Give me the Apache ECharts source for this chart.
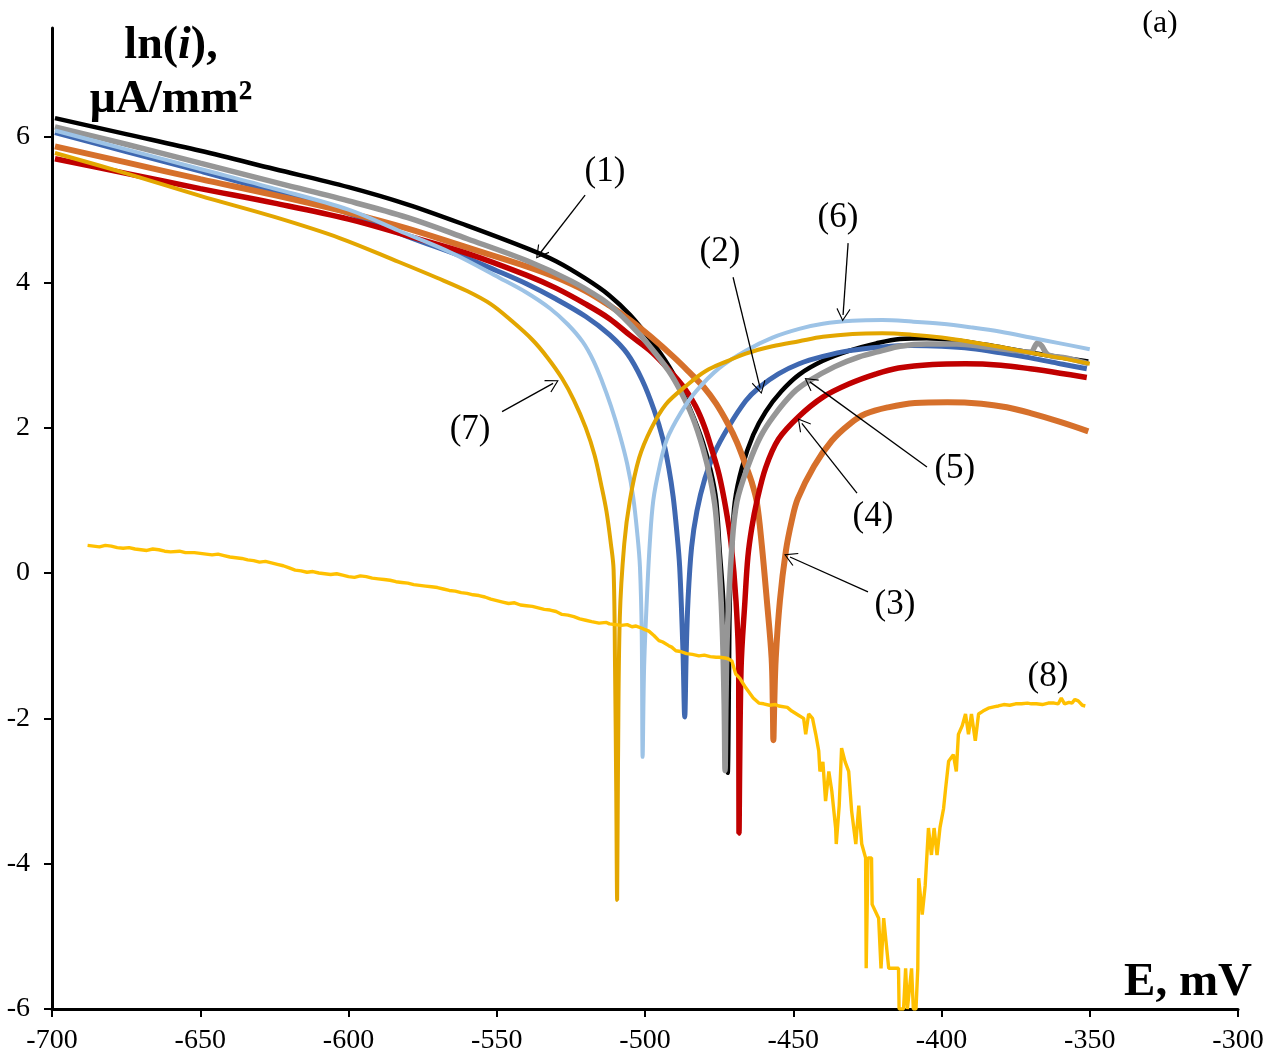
<!DOCTYPE html>
<html>
<head>
<meta charset="utf-8">
<script src="https://cdn.jsdelivr.net/npm/echarts@6/dist/echarts.min.js"></script>
<style>html,body{margin:0;padding:0;background:#fff}#c{width:1280px;height:1062px}</style>
</head>
<body>
<div id="c"></div>
<script>
// ---- data (E in mV, ln(i)) ----
const curve1 = [[-699,6.26],[-675,6.04],[-650,5.81],[-625,5.56],[-600,5.31],[-580,5.07],[-560,4.78],[-540,4.47],[-530,4.29],[-520,4.05],[-512,3.82],[-505,3.55],[-498,3.2],[-492,2.85],[-488,2.55],[-484,2.18],[-480.5,1.8],[-477.8,1.4],[-476,1.0],[-474.8,0.3],[-473.6,-0.38],[-472.7,-1.5],[-472.1,-2.75],[-471.7,-1.5],[-471.4,-0.38],[-470.6,0.4],[-469.7,0.98],[-467.3,1.45],[-463.5,1.9],[-459.3,2.22],[-454,2.5],[-448,2.73],[-440,2.92],[-431,3.06],[-422,3.16],[-414,3.22],[-405,3.23],[-395,3.2],[-385,3.14],[-375,3.07],[-365,3.0],[-357,2.95],[-350.5,2.91]];
const curve2 = [[-699,6.06],[-675,5.8],[-650,5.53],[-625,5.25],[-600,4.95],[-580,4.63],[-560,4.33],[-550,4.16],[-540,3.98],[-530,3.77],[-520,3.53],[-512,3.28],[-506,3.02],[-501,2.66],[-497,2.25],[-494,1.85],[-492,1.45],[-490.5,1.05],[-489.3,0.58],[-488.3,0.08],[-487.2,-1.07],[-486.6,-1.98],[-486.1,-1.1],[-485.5,-0.38],[-484.3,0.35],[-482.5,0.85],[-479.8,1.3],[-476.5,1.66],[-472,2.0],[-466,2.37],[-461.6,2.55],[-455,2.74],[-448,2.88],[-440,2.98],[-431,3.06],[-420,3.11],[-410,3.13],[-400,3.12],[-390,3.09],[-380,3.03],[-370,2.96],[-360,2.88],[-351,2.81]];
const curve3 = [[-699,5.87],[-675,5.65],[-650,5.42],[-625,5.2],[-600,4.96],[-580,4.74],[-560,4.48],[-540,4.22],[-530,4.07],[-520,3.88],[-512,3.68],[-505,3.48],[-498,3.25],[-490,2.96],[-485,2.76],[-480,2.55],[-476,2.33],[-472,2.05],[-469,1.8],[-466,1.48],[-464,1.25],[-462.3,0.98],[-460.6,0.38],[-458.9,-0.38],[-457.3,-1.17],[-456.9,-1.8],[-456.7,-2.3],[-456.4,-1.8],[-455.9,-1.17],[-454.5,-0.38],[-452.5,0.3],[-450.5,0.72],[-448.5,1.02],[-443,1.47],[-437,1.82],[-431,2.05],[-425.6,2.19],[-418,2.28],[-409,2.34],[-398,2.35],[-386.5,2.33],[-378,2.28],[-370,2.2],[-360,2.08],[-350.5,1.95]];
const curve4 = [[-699,5.7],[-675,5.5],[-650,5.29],[-625,5.09],[-600,4.87],[-580,4.64],[-560,4.4],[-540,4.1],[-530,3.92],[-520,3.7],[-512,3.5],[-505,3.27],[-498,3.05],[-492,2.8],[-487,2.56],[-483,2.3],[-480,2.02],[-477.4,1.69],[-475,1.35],[-472.8,0.9],[-471,0.42],[-469.3,-0.39],[-468.4,-1.31],[-468.3,-3.58],[-467.6,-1.31],[-466.3,-0.39],[-465.3,0.22],[-464,0.62],[-462.2,1.0],[-459.3,1.45],[-455,1.84],[-448.2,2.15],[-440,2.42],[-431.3,2.6],[-422,2.74],[-414.5,2.82],[-403,2.87],[-392,2.88],[-380,2.86],[-370,2.81],[-360,2.75],[-351,2.69]];
const curve5 = [[-699,6.14],[-675,5.9],[-650,5.64],[-625,5.38],[-600,5.12],[-580,4.89],[-560,4.6],[-540,4.3],[-525,4.02],[-515,3.78],[-510,3.62],[-505,3.42],[-498,3.1],[-492,2.78],[-488,2.5],[-484,2.15],[-480.5,1.72],[-478,1.3],[-476.2,0.85],[-474.8,0.0],[-473.9,-0.8],[-473.3,-1.8],[-473.0,-2.72],[-472.7,-1.8],[-472.2,-0.8],[-470.8,0.3],[-469,0.98],[-465,1.5],[-461,1.88],[-456.6,2.16],[-450,2.48],[-444.8,2.64],[-436,2.84],[-428,2.97],[-420,3.06],[-414,3.12],[-405,3.15],[-395,3.15],[-385,3.11],[-375,3.06],[-370,3.04],[-367.5,3.17],[-366.3,3.13],[-364,3.0],[-358,2.96],[-350.5,2.88]];
const curve6 = [[-699,6.09],[-675,5.83],[-650,5.56],[-625,5.29],[-600,5.0],[-583,4.71],[-565,4.4],[-549,4.06],[-540,3.86],[-532,3.64],[-526,3.42],[-521,3.18],[-517.5,2.93],[-514.5,2.64],[-511.5,2.3],[-508.5,1.9],[-506,1.5],[-504,1.05],[-502.5,0.5],[-501.7,0.08],[-501.1,-0.84],[-500.8,-2.53],[-500.3,-1.3],[-499.4,-0.38],[-498.4,0.4],[-497.2,1.0],[-495,1.48],[-492.6,1.84],[-488,2.2],[-482.8,2.5],[-475,2.82],[-466,3.06],[-457,3.24],[-448,3.36],[-440,3.43],[-430,3.47],[-420,3.48],[-410,3.46],[-400,3.43],[-390,3.38],[-380,3.32],[-370,3.24],[-360,3.16],[-350,3.08]];
const curve7 = [[-699,5.78],[-675,5.5],[-650,5.19],[-625,4.9],[-603,4.61],[-583,4.28],[-570,4.06],[-560,3.88],[-552,3.7],[-545,3.47],[-538,3.21],[-533,2.97],[-528,2.68],[-524,2.38],[-520,2.0],[-517,1.62],[-514.8,1.22],[-513,0.85],[-511.5,0.4],[-510.6,0.05],[-510.1,-1.3],[-509.7,-3.0],[-509.4,-4.5],[-509.1,-2.6],[-508.5,-0.62],[-507,0.4],[-505.1,1.0],[-502,1.58],[-498,1.98],[-493,2.32],[-486,2.58],[-479.5,2.78],[-472,2.92],[-466,3.02],[-457,3.12],[-448,3.19],[-440,3.25],[-430,3.29],[-420,3.3],[-410,3.28],[-400,3.24],[-390,3.18],[-380,3.11],[-370,3.03],[-360,2.96],[-350,2.88]];
const curve8 = [[-688,0.38],[-686,0.37],[-684,0.36],[-682,0.38],[-680,0.37],[-678,0.35],[-676,0.34],[-674,0.35],[-672,0.33],[-670,0.32],[-668,0.31],[-666,0.33],[-664,0.32],[-662,0.3],[-660,0.29],[-657,0.3],[-655,0.28],[-652,0.28],[-650,0.27],[-648,0.26],[-646,0.25],[-644,0.26],[-642,0.24],[-640,0.22],[-638,0.21],[-636,0.2],[-634,0.18],[-632,0.17],[-630,0.15],[-628,0.16],[-626,0.14],[-624,0.12],[-622,0.1],[-620,0.07],[-618,0.04],[-616,0.03],[-614,0.01],[-612,0.02],[-610,0.0],[-608,-0.01],[-606,-0.02],[-604,-0.01],[-602,-0.03],[-600,-0.05],[-598,-0.06],[-596,-0.04],[-594,-0.05],[-592,-0.07],[-590,-0.08],[-588,-0.09],[-586,-0.1],[-584,-0.12],[-582,-0.13],[-580,-0.14],[-578,-0.16],[-576,-0.17],[-574,-0.18],[-572,-0.19],[-570,-0.2],[-568,-0.22],[-566,-0.24],[-564,-0.25],[-562,-0.27],[-560,-0.28],[-558,-0.3],[-556,-0.31],[-554,-0.33],[-552,-0.36],[-550,-0.38],[-548,-0.4],[-546,-0.42],[-544,-0.41],[-542,-0.44],[-540,-0.45],[-538,-0.46],[-536,-0.48],[-534,-0.5],[-532,-0.51],[-530,-0.53],[-528,-0.57],[-526,-0.58],[-524,-0.6],[-522,-0.63],[-520,-0.65],[-518,-0.67],[-515.5,-0.69],[-513,-0.68],[-512,-0.7],[-510,-0.71],[-508,-0.72],[-506,-0.71],[-504.4,-0.74],[-503,-0.73],[-501,-0.76],[-500,-0.78],[-498.7,-0.8],[-497,-0.86],[-495.3,-0.93],[-494,-0.95],[-492,-1.0],[-491,-1.02],[-489.6,-1.07],[-488,-1.08],[-486,-1.11],[-484,-1.12],[-481.8,-1.14],[-480,-1.13],[-478,-1.15],[-476,-1.16],[-475,-1.16],[-473,-1.17],[-472,-1.18],[-470.7,-1.21],[-469.4,-1.39],[-468,-1.45],[-466,-1.58],[-463.5,-1.72],[-461.6,-1.79],[-460,-1.8],[-458,-1.82],[-456,-1.81],[-454.9,-1.83],[-452,-1.85],[-450.5,-1.9],[-448.1,-1.96],[-446.5,-2.0],[-445.8,-2.22],[-444.8,-1.94],[-443.5,-2.0],[-442.4,-2.22],[-441.4,-2.45],[-441,-2.73],[-440,-2.6],[-439.1,-3.14],[-438,-2.73],[-437,-3.0],[-435.7,-3.51],[-435.5,-3.73],[-434.5,-3.2],[-433.7,-2.41],[-432.5,-2.6],[-431.3,-2.73],[-430.3,-3.28],[-428.9,-3.73],[-427.9,-3.2],[-426.9,-3.73],[-425.6,-3.92],[-425.4,-5.44],[-424.8,-3.92],[-423.6,-3.92],[-423.4,-4.56],[-421.2,-4.75],[-420.4,-5.44],[-419.5,-4.75],[-417.8,-5.44],[-414.5,-5.44],[-414.3,-6],[-412.8,-6],[-412.1,-5.44],[-411.5,-6],[-410.1,-5.44],[-409.5,-6],[-408.6,-6],[-408,-5.44],[-407.7,-4.2],[-406.5,-4.7],[-405.5,-4.3],[-404.4,-3.51],[-403.4,-3.88],[-402.5,-3.51],[-401.5,-3.88],[-400.5,-3.5],[-399.3,-3.24],[-398.6,-2.96],[-397.6,-2.59],[-396,-2.5],[-395,-2.73],[-394.3,-2.22],[-393,-2.1],[-391.9,-1.94],[-390.9,-2.22],[-389.9,-1.94],[-388.6,-2.31],[-387.5,-1.94],[-386,-1.9],[-384.2,-1.86],[-382,-1.84],[-380.8,-1.83],[-379,-1.81],[-377,-1.82],[-375,-1.8],[-373,-1.8],[-371,-1.79],[-369.7,-1.8],[-368,-1.8],[-366,-1.81],[-364,-1.79],[-362,-1.79],[-360.6,-1.8],[-359.6,-1.72],[-358.5,-1.8],[-357,-1.78],[-356,-1.79],[-355,-1.74],[-353.9,-1.76],[-352.5,-1.82],[-351.5,-1.83]];

const seriesNames = ['(1)','(2)','(3)','(4)','(5)','(6)','(7)','(8)'];
// label anchor points [E, ln(i)]
const labelPoints = [[-513.5,5.52],[-474.7,4.42],[-415.7,-0.44],[-423.1,0.77],[-395.5,1.44],[-434.9,4.89],[-559.0,1.97],[-364.1,-1.43]];
// arrows: [from, to] in data units
const arrows = [
  [[-520.2,5.20],[-535.4,4.40]],
  [[-470.3,4.07],[-461.2,2.55]],
  [[-424.8,-0.26],[-451.1,0.22]],
  [[-428.5,1.10],[-447.1,2.06]],
  [[-404.9,1.46],[-444.4,2.63]],
  [[-431.5,4.54],[-433.2,3.55]],
  [[-548.2,2.22],[-531.0,2.61]]
];
const xTicks = {min:-700, max:-300, interval:50};
const yTickValues = [-6,-4,-2,0,2,4,6];

const SERIF = 'Liberation Serif';
const chevron = 'path://M0,0 L7,12 L6.1,12.7 L0,2.1 L-6.1,12.7 L-7,12 Z';

function lineSeries(name, data, color, width, z){
  return {name, type:'line', data, smooth:0.35, showSymbol:false, symbol:'none',
    lineStyle:{color, width}, itemStyle:{color}, z, silent:true, animation:false};
}

const series = [
  lineSeries('1', curve1, '#000000', 4.5, 2),
  lineSeries('2', curve2, '#3F68B1', 5, 2),
  lineSeries('3', curve3, '#D6702B', 6, 2),
  lineSeries('4', curve4, '#C00000', 5.5, 3),
  lineSeries('5', curve5, '#969696', 5.5, 3),
  lineSeries('6', curve6, '#9DC3E6', 4, 4),
  lineSeries('7', curve7, '#E3A600', 4, 4),
  Object.assign(lineSeries('8', curve8, '#FFC000', 3.4, 5), {smooth:false}),
  {
    type:'line', data:[], z:10, silent:true, animation:false,
    markLine:{
      silent:true, animation:false,
      symbol:['none', chevron], symbolSize:[14,13],
      lineStyle:{color:'#000', width:1.3, type:'solid'},
      label:{show:false},
      data: arrows.map(a => [{coord:a[0]},{coord:a[1]}])
    },
    markPoint:{
      silent:true, animation:false,
      symbol:'circle', symbolSize:1, itemStyle:{color:'rgba(0,0,0,0)'},
      label:{show:true, position:'inside', color:'#000', fontFamily:SERIF, fontSize:35,
        formatter: p => p.name},
      data: labelPoints.map((c,i) => ({name:seriesNames[i], coord:c}))
    }
  }
];

const chart = echarts.init(document.getElementById('c'), null, {renderer:'canvas'});
chart.setOption({
  backgroundColor:'#fff',
  animation:false,
  grid:{left:52, right:42, top:28, bottom:53, containLabel:false},
  xAxis:{
    type:'value', min:xTicks.min, max:xTicks.max, interval:xTicks.interval,
    axisLine:{show:true, onZero:false, lineStyle:{color:'#000', width:3}},
    axisTick:{show:true, inside:false, length:8, lineStyle:{color:'#000', width:2}},
    axisLabel:{color:'#000', fontFamily:SERIF, fontSize:28, margin:18},
    splitLine:{show:false}
  },
  yAxis:{
    type:'value', min:-6, max:7.5,
    axisLine:{show:true, onZero:false, lineStyle:{color:'#000', width:3}},
    axisTick:{show:true, inside:false, length:8, customValues:yTickValues, lineStyle:{color:'#000', width:2}},
    axisLabel:{color:'#000', fontFamily:SERIF, fontSize:28, margin:22, customValues:yTickValues},
    splitLine:{show:false}
  },
  graphic:[
    {type:'text', x:171, y:46, z:20, style:{
      text:'{b|ln(}{bi|i}{b|),}', align:'center', verticalAlign:'middle',
      rich:{
        b:{fontFamily:SERIF, fontWeight:'bold', fontSize:46, fill:'#000'},
        bi:{fontFamily:SERIF, fontWeight:'bold', fontStyle:'italic', fontSize:46, fill:'#000'}
      }}},
    {type:'text', x:171, y:100, z:20, style:{text:'μA/mm²', align:'center', verticalAlign:'middle',
      fontFamily:SERIF, fontWeight:'bold', fontSize:46, fill:'#000'}},
    {type:'text', x:1188, y:983, z:20, style:{text:'E, mV', align:'center', verticalAlign:'middle',
      fontFamily:SERIF, fontWeight:'bold', fontSize:47, fill:'#000'}},
    {type:'text', x:1160, y:24, z:20, style:{text:'(a)', align:'center', verticalAlign:'middle',
      fontFamily:SERIF, fontSize:32, fill:'#000'}}
  ],
  series
});
</script>
</body>
</html>
